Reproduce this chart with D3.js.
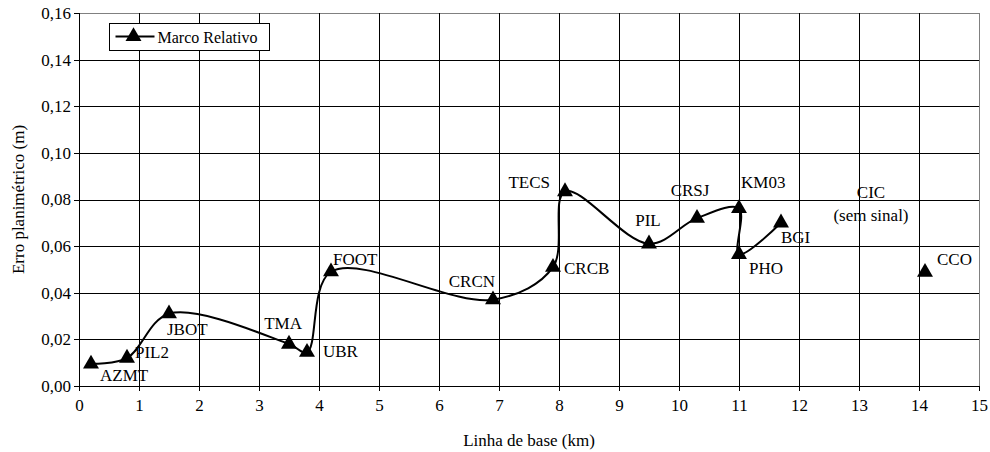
<!DOCTYPE html>
<html lang="pt">
<head>
  <meta charset="UTF-8">
  <title>Erro planimétrico x Linha de base</title>
  <script src="https://d3js.org/d3.v7.min.js"></script>
  <style>
    body { margin: 0; background: #fff; }
    svg text {
      font-family: "Liberation Serif", "Tinos", "DejaVu Serif", serif;
      font-size: 17px;
      fill: #000;
    }
    .grid line {
      stroke: #000;
      stroke-width: 1;
      shape-rendering: crispEdges;
    }
    .axis path, .axis line {
      stroke: #000;
      shape-rendering: crispEdges;
    }
  </style>
</head>
<body>
<svg width="990" height="452" font-family="Liberation Serif"></svg>

<script>
  // stations (linha de base em km, erro planimétrico em m)
  const stations = ["AZMT", "PIL2", "JBOT", "TMA", "UBR", "FOOT", "CRCN", "CRCB", "TECS",
                    "PIL", "CRSJ", "KM03", "PHO", "BGI", "CCO"];
  const baseline = [0.2, 0.8, 1.5, 3.5, 3.8, 4.2, 6.9, 7.9, 8.1, 9.5, 10.3, 11.0, 11.0, 11.7, 14.1];
  const erro     = [0.0095, 0.012, 0.031, 0.018, 0.0145, 0.049, 0.037, 0.051, 0.0834,
                    0.061, 0.072, 0.0762, 0.0565, 0.070, 0.0488];
  // CCO is not part of the smoothed line
  const lineCount = 14;

  const xTicks = d3.range(0, 16, 1);
  const yTicks = [0, 0.02, 0.04, 0.06, 0.08, 0.10, 0.12, 0.14, 0.16];

  // label placement relative to the marker, in px (dx, dy, anchor)
  const labelPos = [
    [9, 17, "start"], [8, 0, "start"], [-2, 21, "start"], [13, -15, "end"], [16, 5, "start"],
    [2, -7, "start"], [2, -13, "end"], [11, 7, "start"], [-15, -4, "end"], [-1, -18, "middle"],
    [-7, -22, "middle"], [2, -20, "start"], [10, 20, "start"], [0, 20, "start"], [12, -7, "start"]
  ];

  const width = 990, height = 452;
  const margin = {top: 13, right: 11, bottom: 66, left: 79};
  const plotW = width - margin.left - margin.right;
  const plotH = height - margin.top - margin.bottom;

  const svg = d3.select("svg");
  const g = svg.append("g").attr("transform", `translate(${margin.left},${margin.top})`);

  const x = d3.scaleLinear().domain([0, 15]).range([0, plotW]);
  const y = d3.scaleLinear().domain([0, 0.16]).range([plotH, 0]);

  const fmt = d => d3.format(".2f")(d).replace(".", ",");

  // grid
  g.append("g").attr("class", "grid")
    .selectAll("line.h").data(yTicks).join("line")
    .attr("x1", 0).attr("x2", plotW)
    .attr("y1", d => Math.round(y(d)) + 0.5).attr("y2", d => Math.round(y(d)) + 0.5)
    .style("stroke", d => d === 0.16 ? "#808080" : "#000");
  g.append("g").attr("class", "grid")
    .selectAll("line.v").data(xTicks).join("line")
    .attr("y1", 0).attr("y2", plotH)
    .attr("x1", d => Math.round(x(d)) + 0.5).attr("x2", d => Math.round(x(d)) + 0.5)
    .style("stroke", d => d === 15 ? "#808080" : "#000");

  // axes
  g.append("g").attr("class", "axis")
    .attr("transform", `translate(0,${plotH})`)
    .call(d3.axisBottom(x).tickValues(xTicks).tickSize(5).tickPadding(8).tickFormat(d3.format("d")))
    .call(a => a.attr("font-family", null).attr("font-size", null));
  g.append("g").attr("class", "axis")
    .call(d3.axisLeft(y).tickValues(yTicks).tickSize(5).tickPadding(3).tickFormat(fmt))
    .call(a => a.attr("font-family", null).attr("font-size", null));

  // axis titles
  svg.append("text")
    .attr("x", margin.left + plotW / 2)
    .attr("y", 446)
    .attr("text-anchor", "middle")
    .text("Linha de base (km)");
  svg.append("text")
    .attr("transform", `translate(24,${margin.top + plotH / 2}) rotate(-90)`)
    .attr("text-anchor", "middle")
    .text("Erro planimétrico (m)");

  const pts = stations.map((s, i) => ({name: s, x: baseline[i], y: erro[i], pos: labelPos[i]}));

  // smoothed line
  const line = d3.line()
    .x(d => x(d.x)).y(d => y(d.y))
    .curve(d3.curveCatmullRom.alpha(0.5));
  g.append("path")
    .datum(pts.slice(0, lineCount))
    .attr("d", line)
    .attr("fill", "none")
    .attr("stroke", "#000")
    .attr("stroke-width", 2);

  const tri = d3.symbol().type(d3.symbolTriangle).size(110);
  g.selectAll(".marker").data(pts).join("path")
    .attr("class", "marker")
    .attr("d", tri)
    .attr("transform", d => `translate(${x(d.x)},${y(d.y)})`)
    .attr("fill", "#000");

  g.selectAll(".lbl").data(pts).join("text")
    .attr("class", "lbl")
    .attr("x", d => x(d.x) + d.pos[0])
    .attr("y", d => y(d.y) + d.pos[1])
    .attr("text-anchor", d => d.pos[2])
    .text(d => d.name);

  // station without signal
  g.append("text").attr("x", x(13.2)).attr("y", y(0.0805))
    .attr("text-anchor", "middle").text("CIC");
  g.append("text").attr("x", x(13.2)).attr("y", y(0.0805) + 23)
    .attr("text-anchor", "middle").text("(sem sinal)");

  // legend
  const leg = svg.append("g").attr("transform", "translate(109.5,23.5)");
  leg.append("rect").attr("width", 160).attr("height", 27)
    .attr("fill", "#fff").attr("stroke", "#000");
  leg.append("line").attr("x1", 6).attr("x2", 45).attr("y1", 13).attr("y2", 13)
    .attr("stroke", "#000").attr("stroke-width", 2);
  leg.append("path").attr("d", tri).attr("transform", "translate(24,13)");
  leg.append("text").attr("x", 48).attr("y", 19).style("font-size", "16px").text("Marco Relativo");
</script>
</body>
</html>
